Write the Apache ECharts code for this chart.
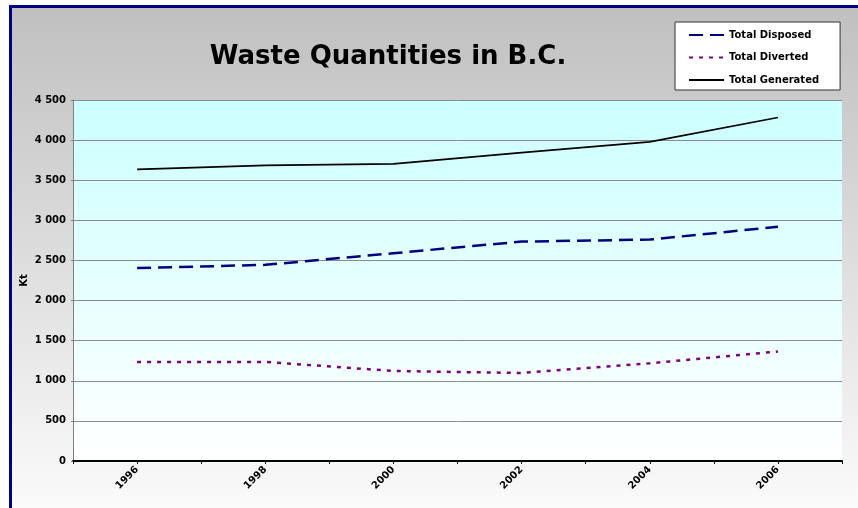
<!DOCTYPE html>
<html>
<head>
<meta charset="utf-8">
<script src="https://cdn.jsdelivr.net/npm/echarts@6/dist/echarts.min.js"></script>
<style>
  html, body { margin: 0; padding: 0; background: #ffffff; overflow: hidden; }
  #bg { position: absolute; left: 9px; top: 5px; width: 900px; height: 520px;
        border-left: 3px solid #000080; border-top: 3px solid #000080;
        background: linear-gradient(to bottom, #c0c0c0 0px, #fbfbfb 503px); }
  #chart { position: absolute; left: 0; top: 0; width: 858px; height: 508px; }
</style>
</head>
<body>
<div id="bg"></div>
<div id="chart"></div>
<script>
// Data
const years = [1996, 1998, 2000, 2002, 2004, 2006];
const totalDisposed  = [2405, 2445, 2590, 2735, 2760, 2920];
const totalDiverted  = [1235, 1235, 1122, 1097, 1218, 1365];
const totalGenerated = [3635, 3685, 3705, 3845, 3978, 4282];
const seriesNames = ['Total Disposed', 'Total Diverted', 'Total Generated'];
const yearTickLabels = ['1996', '1998', '2000', '2002', '2004', '2006'];

const FONT = 'DejaVu Sans';
const chart = echarts.init(document.getElementById('chart'), null, { renderer: 'canvas' });

function pairs(vals) { return years.map((y, i) => [y, vals[i]]); }
function fmtThousands(v) {
  const s = String(v);
  return s.length > 3 ? s.slice(0, s.length - 3) + ' ' + s.slice(-3) : s;
}

chart.setOption({
  backgroundColor: 'transparent',
  animation: false,
  title: {
    text: 'Waste Quantities in B.C.',
    left: 388, textAlign: 'center', top: 44, padding: 0,
    textStyle: { fontFamily: FONT, fontWeight: 'bold', fontSize: 26, color: '#000' }
  },
  legend: {
    orient: 'vertical',
    left: 675, top: 22,
    padding: [6, 21, 3, 13],
    itemGap: 8.5,
    itemWidth: 35, itemHeight: 14,
    backgroundColor: '#ffffff',
    borderColor: '#333333', borderWidth: 1,
    itemStyle: { opacity: 0 },
    textStyle: { fontFamily: FONT, fontWeight: 'bold', fontSize: 10, color: '#000', lineHeight: 14 },
    data: seriesNames
  },
  grid: {
    left: 73, right: 16, top: 100, bottom: 47,
    show: true, borderWidth: 0,
    backgroundColor: new echarts.graphic.LinearGradient(0, 0, 0, 1, [
      { offset: 0, color: '#ccffff' }, { offset: 1, color: '#ffffff' }
    ])
  },
  xAxis: {
    type: 'value', min: 1995, max: 2007, interval: 1,
    axisLine: { show: true, lineStyle: { color: '#000', width: 2 } },
    axisTick: { show: true, length: 3, lineStyle: { color: '#000' } },
    splitLine: { show: false },
    axisLabel: {
      rotate: 45, margin: 7,
      fontFamily: FONT, fontWeight: 'bold', fontSize: 10, color: '#000',
      formatter: v => (yearTickLabels.indexOf(String(v)) >= 0 ? String(v) : '')
    }
  },
  yAxis: {
    type: 'value', min: 0, max: 4500, interval: 500,
    name: 'Kt', nameLocation: 'middle', nameGap: 44, nameRotate: 90,
    nameMoveOverlap: false,
    nameTextStyle: { fontFamily: FONT, fontWeight: 'bold', fontSize: 10, color: '#000' },
    axisLine: { show: true, lineStyle: { color: '#808080', width: 1 } },
    axisTick: { show: true, length: 2, lineStyle: { color: '#808080' } },
    splitLine: { show: true, lineStyle: { color: '#8a8a8a', width: 1 } },
    axisLabel: {
      margin: 7, fontFamily: FONT, fontWeight: 'bold', fontSize: 10, color: '#000',
      formatter: v => fmtThousands(v)
    }
  },
  series: [
    {
      name: seriesNames[0], type: 'line', data: pairs(totalDisposed),
      showSymbol: false, symbol: 'none', color: '#000080',
      lineStyle: { color: '#000080', width: 2.5, type: [14, 7] }
    },
    {
      name: seriesNames[1], type: 'line', data: pairs(totalDiverted),
      showSymbol: false, symbol: 'none', color: '#800080',
      lineStyle: { color: '#800080', width: 2.5, type: [4, 6] }
    },
    {
      name: seriesNames[2], type: 'line', data: pairs(totalGenerated),
      showSymbol: false, symbol: 'none', color: '#000000',
      lineStyle: { color: '#000000', width: 1.75, type: 'solid' }
    }
  ]
});
</script>
</body>
</html>
